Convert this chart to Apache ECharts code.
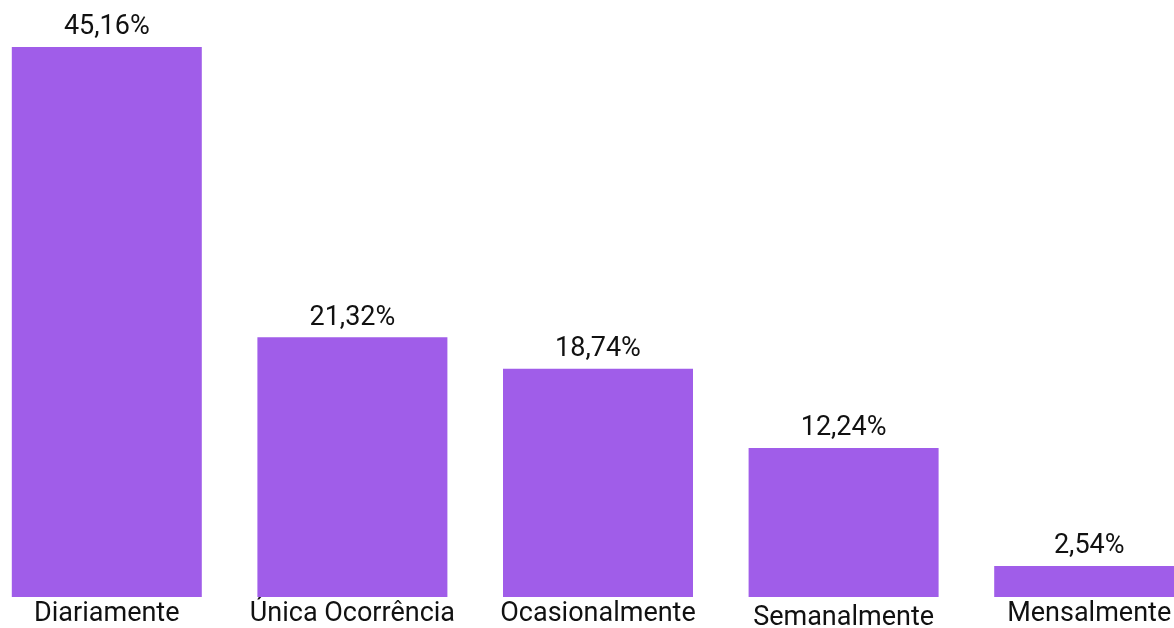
<!DOCTYPE html>
<html>
<head>
<meta charset="utf-8">
<script src="https://cdn.jsdelivr.net/npm/echarts@6/dist/echarts.min.js"></script>
<style>
  html, body { margin: 0; padding: 0; background: #fff; overflow: hidden; }
  /* chart is wider than the window: the last bar is cut at the right edge */
  #chart { width: 1228px; height: 628px; margin-left: -16px; }
</style>
</head>
<body>
<div id="chart"></div>
<script>
  var categories = ['Diariamente', 'Única Ocorrência', 'Ocasionalmente', 'Semanalmente', 'Mensalmente'];
  var values = [45.16, 21.32, 18.74, 12.24, 2.54];

  var chart = echarts.init(document.getElementById('chart'));

  chart.setOption({
    animation: false,
    textStyle: { fontFamily: 'Roboto' },
    grid: {
      left: 0,
      right: 0,
      top: 47,
      bottom: 31,
      outerBoundsMode: 'none'
    },
    xAxis: {
      type: 'category',
      // Semanalmente sits a little lower in the original
      data: categories.map(function (c) {
        return c === 'Semanalmente' ? { value: c, textStyle: { padding: [4, 0, 0, 0] } } : c;
      }),
      axisLine: { show: false },
      axisTick: { show: false },
      axisLabel: {
        color: '#111',
        fontSize: 27,
        margin: 4,
        interval: 0
      }
    },
    yAxis: {
      type: 'value',
      min: 0,
      max: 45.16,
      show: false
    },
    series: [{
      type: 'bar',
      data: values,
      barWidth: 190,
      itemStyle: { color: '#a05de9' },
      label: {
        show: true,
        position: 'top',
        distance: 6,
        color: '#111',
        fontSize: 27,
        formatter: function (p) {
          return p.value.toFixed(2).replace('.', ',') + '%';
        }
      }
    }]
  });
</script>
</body>
</html>
